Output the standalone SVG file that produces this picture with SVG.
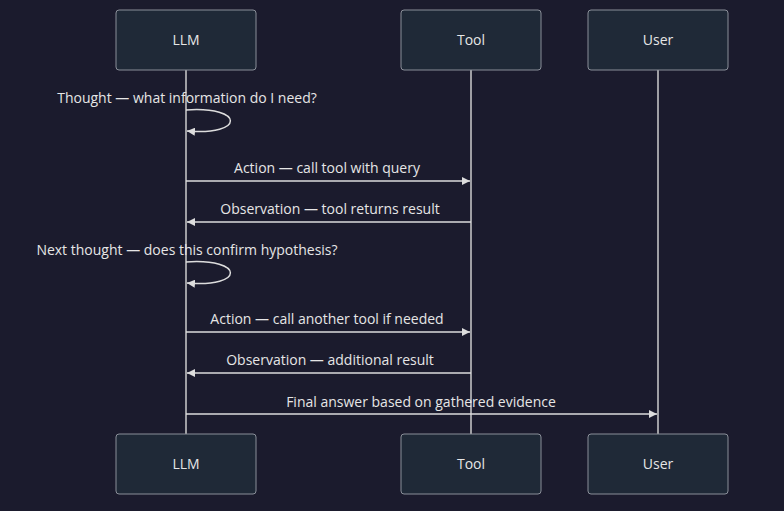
<svg xmlns="http://www.w3.org/2000/svg" width="784" height="511" viewBox="0 0 784 511">
<style>
.box{fill:#1f2937;stroke:#8a8f99;stroke-width:1}
.life{stroke:#cccccc;stroke-width:1.5}
.msg{stroke:#dddddd;stroke-width:1.5;fill:none}
text{font-family:"Open Sans","Liberation Sans",sans-serif;font-size:14px;fill:#e6e6e6;text-anchor:middle}
</style>
<defs>
<marker id="ah" viewBox="0 0 10 10" refX="10" refY="5" markerWidth="8" markerHeight="8" orient="auto" markerUnits="userSpaceOnUse"><path d="M0,0 L10,5 L0,10 z" fill="#dddddd"/></marker>
</defs>
<rect width="784" height="511" fill="#1b1b2d"/>
<g id="lifelines">
<line class="life" x1="186" y1="70" x2="186" y2="434"/>
<line class="life" x1="471" y1="70" x2="471" y2="434"/>
<line class="life" x1="658" y1="70" x2="658" y2="434"/>
</g>
<g id="LLM"><rect class="box" x="116" y="10" width="140" height="60" rx="3"/><text x="186" y="45">LLM</text></g>
<g id="Tool"><rect class="box" x="401" y="10" width="140" height="60" rx="3"/><text x="471" y="45">Tool</text></g>
<g id="User"><rect class="box" x="588" y="10" width="140" height="60" rx="3"/><text x="658" y="45">User</text></g>
<g id="LLM_bottom"><rect class="box" x="116" y="434" width="140" height="60" rx="3"/><text x="186" y="469">LLM</text></g>
<g id="Tool_bottom"><rect class="box" x="401" y="434" width="140" height="60" rx="3"/><text x="471" y="469">Tool</text></g>
<g id="User_bottom"><rect class="box" x="588" y="434" width="140" height="60" rx="3"/><text x="658" y="469">User</text></g>
<g id="connectors">
<path class="msg" d="M186,110 C245,106 245,136 187,131" marker-end="url(#ah)"/>
<line class="msg" x1="186" y1="181" x2="470" y2="181" marker-end="url(#ah)"/>
<line class="msg" x1="471" y1="222" x2="187" y2="222" marker-end="url(#ah)"/>
<path class="msg" d="M186,262 C245,258 245,288 187,283" marker-end="url(#ah)"/>
<line class="msg" x1="186" y1="332" x2="470" y2="332" marker-end="url(#ah)"/>
<line class="msg" x1="471" y1="373" x2="187" y2="373" marker-end="url(#ah)"/>
<line class="msg" x1="186" y1="414" x2="657" y2="414" marker-end="url(#ah)"/>
</g>
<g id="labels">
<text x="187" y="103">Thought — what information do I need?</text>
<text x="327" y="173">Action — call tool with query</text>
<text x="330" y="214">Observation — tool returns result</text>
<text x="187" y="255">Next thought — does this confirm hypothesis?</text>
<text x="327" y="324">Action — call another tool if needed</text>
<text x="330" y="365">Observation — additional result</text>
<text x="421" y="407">Final answer based on gathered evidence</text>
</g>
</svg>
